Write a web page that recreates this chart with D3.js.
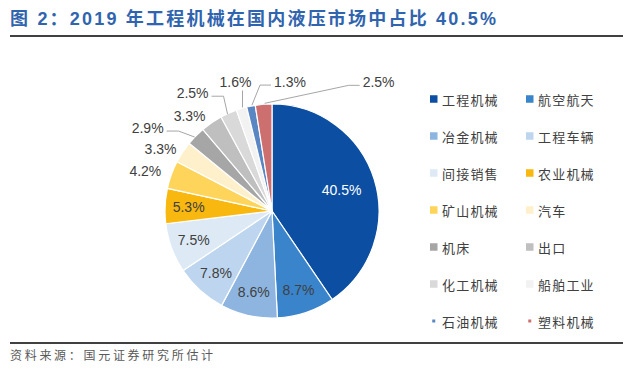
<!DOCTYPE html>
<html><head><meta charset="utf-8">
<script src="https://cdn.jsdelivr.net/npm/d3@7"></script>
<style>
body{margin:0;background:#fff;}
svg{display:block;}
</style></head>
<body><svg id="c" width="636" height="389"></svg>
<script>
// ---- data ----
const categories = ["工程机械","航空航天","冶金机械","工程车辆","间接销售","农业机械","矿山机械","汽车","机床","出口","化工机械","船舶工业","石油机械","塑料机械"];
const shares = [40.5,8.7,8.6,7.8,7.5,5.3,4.2,3.3,2.9,3.3,2.5,1.6,1.3,2.5];
const colors = ["#0B4EA2","#3A84CC","#8DB5E0","#BDD5EE","#DDEAF6","#F8B80F","#FED55A","#FFF0CC","#A6A6A6","#BFBFBF","#D9D9D9","#F2F2F2","#5B86C4","#CE6F6F"];
const titleText = "图 2：2019 年工程机械在国内液压市场中占比 40.5%";
const sourceText = "资料来源：国元证券研究所估计";

// ---- layout ----
const cx = 272, cy = 211, R = 107;
const insideRadius = {"工程机械":0.68};
const outsideLabels = {
  "矿山机械":{dx:-26,dy:-4},
  "汽车":{dx:-22,dy:-3},
  "机床":{dx:-48,dy:-8,leader:"right"},
  "出口":{dx:-22,dy:-7},
  "化工机械":{dx:-36,dy:-20,leader:"right"},
  "船舶工业":{dx:-6,dy:-26,leader:"down"},
  "石油机械":{dx:39,dy:-24,leader:"left"},
  "塑料机械":{dx:115,dy:-22,leader:"left"}
};

const svg = d3.select("#c");
const data = categories.map((c,i)=>({cat:c,value:shares[i],color:colors[i]}));
const color = d3.scaleOrdinal().domain(categories).range(colors);

// title
svg.append("text").attr("x",10).attr("y",25)
  .attr("font-family","'Liberation Sans', 'Noto Sans CJK SC', sans-serif").attr("font-weight","bold")
  .attr("font-size",18).attr("letter-spacing",2.2).attr("fill","#3064AE")
  .text(titleText);
svg.append("line").attr("x1",10).attr("x2",623).attr("y1",36).attr("y2",36)
  .attr("stroke","#000").attr("stroke-width",1.5);
svg.append("line").attr("x1",10).attr("x2",623).attr("y1",343).attr("y2",343)
  .attr("stroke","#000").attr("stroke-width",1.5);
svg.append("text").attr("x",10).attr("y",360)
  .attr("font-family","'Noto Sans CJK SC', serif").attr("font-size",12)
  .attr("letter-spacing",2.7).attr("fill","#595959").text(sourceText);

// pie
const pie = d3.pie().value(d=>d.value).sort(null);
const arcs = pie(data);
const arc = d3.arc().innerRadius(0).outerRadius(R);
const g = svg.append("g").attr("transform",`translate(${cx},${cy})`);
g.selectAll("path").data(arcs).join("path")
  .attr("d",arc).attr("fill",d=>color(d.data.cat))
  .attr("stroke","#fff").attr("stroke-width",1.2).attr("stroke-linejoin","round");

const labFont = "'Liberation Sans', Arial, sans-serif";
function polar(r,a){return [r*Math.sin(a), -r*Math.cos(a)];}

arcs.forEach(d=>{
  const mid = (d.startAngle+d.endAngle)/2;
  const txt = d3.format(".1f")(d.data.value)+"%";
  const o = outsideLabels[d.data.cat];
  if(!o){
    const f = insideRadius[d.data.cat] || 0.78;
    const [x,y] = polar(R*f, mid);
    g.append("text").attr("x",x).attr("y",y).attr("text-anchor","middle")
      .attr("dominant-baseline","central").attr("font-family",labFont).attr("font-size",14)
      .attr("fill", d.data.cat==="工程机械" ? "#fff" : "#404040").text(txt);
  } else {
    const [px,py] = polar(R, mid);
    const lx = px+o.dx, ly = py+o.dy;
    const t = g.append("text").attr("x",lx).attr("y",ly).attr("text-anchor","middle")
      .attr("dominant-baseline","central").attr("font-family",labFont).attr("font-size",14)
      .attr("fill","#404040").text(txt);
    const w = t.node().getComputedTextLength();
    let pts = null;
    if(o.leader==="right"){
      const ex = lx+w/2+3;
      pts = [[ex, ly+3],[ex+12, ly+3],[px-1,py+1]];
    } else if(o.leader==="left"){
      const ex = lx-w/2-3;
      pts = [[ex, ly+3],[ex-11, ly+3],[px+1,py-1]];
    } else if(o.leader==="down"){
      pts = [[lx+7, ly+8],[px+1,py-1]];
    }
    if(pts){
      g.append("path").attr("d",d3.line()(pts)).attr("fill","none")
        .attr("stroke","#A6A6A6").attr("stroke-width",1);
    }
  }
});

// legend
const legX = [430, 526], legY0 = 99, legDy = 37;
const leg = svg.append("g");
data.forEach((d,i)=>{
  const col = i%2, row = Math.floor(i/2);
  const x = legX[col], y = legY0+row*legDy;
  const small = d.cat==="石油机械"||d.cat==="塑料机械";
  const s = small?3:7.5;
  leg.append("rect").attr("x",x+(7.5-s)/2).attr("y",y-s/2).attr("width",s).attr("height",s)
    .attr("fill",color(d.cat));
  leg.append("text").attr("x",x+12).attr("y",y).attr("dominant-baseline","central")
    .attr("font-family","'Noto Sans CJK SC', serif").attr("font-size",13)
    .attr("letter-spacing",1.2).attr("fill","#404040").text(d.cat);
});
</script></body></html>
